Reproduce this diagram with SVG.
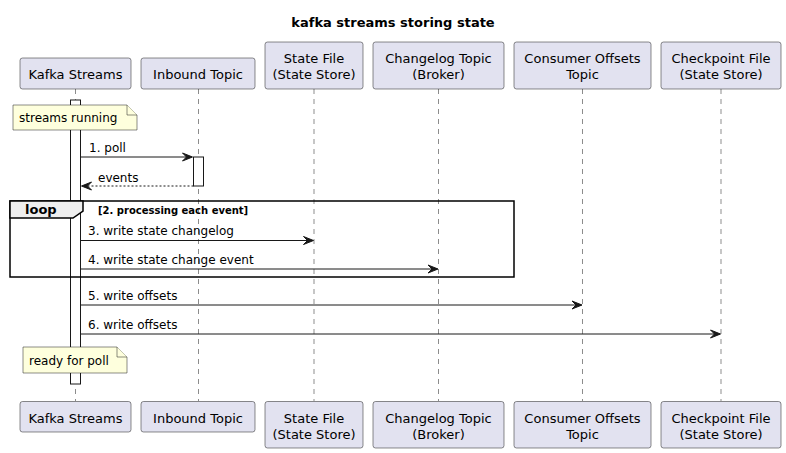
<svg xmlns="http://www.w3.org/2000/svg" width="786" height="453" viewBox="0 0 786 453">
<style>
text{font-family:"DejaVu Sans","Liberation Sans",sans-serif;fill:#000}
.title{font-size:13px;font-weight:bold}
.p{font-size:13px;text-anchor:middle}
.m{font-size:12px}
.n{font-size:12px}
.box{fill:#E2E2F0;stroke:#181818;stroke-width:0.5}
.life{stroke:#181818;stroke-width:0.5;stroke-dasharray:5,5;fill:none}
.act{fill:#FFFFFF;stroke:#181818;stroke-width:1}
.note{fill:#FEFFDD;stroke:#181818;stroke-width:0.5}
.msg{stroke:#181818;stroke-width:1;fill:none}
.ret{stroke:#181818;stroke-width:1;fill:none;stroke-dasharray:2,2}
.head{fill:#181818;stroke:#181818;stroke-width:1}
.frame{fill:none;stroke:#000;stroke-width:1.5}
.tab{fill:#EEEEEE;stroke:#000;stroke-width:1.5}
.lb{font-size:13px;font-weight:bold}
.cond{font-size:10px;font-weight:bold}
</style>
<text class="title" x="393" y="27" text-anchor="middle">kafka streams storing state</text>

<g id="lifelines">
<line class="life" x1="75.5" y1="89" x2="75.5" y2="401"/>
<line class="life" x1="198.5" y1="89" x2="198.5" y2="401"/>
<line class="life" x1="314" y1="89" x2="314" y2="401"/>
<line class="life" x1="438.5" y1="89" x2="438.5" y2="401"/>
<line class="life" x1="582.5" y1="89" x2="582.5" y2="401"/>
<line class="life" x1="721" y1="89" x2="721" y2="401"/>
</g>

<g id="kafka-streams">
<rect class="box" x="20" y="58" width="111" height="31" rx="2.5"/>
<text class="p" x="75.5" y="79">Kafka Streams</text>
<rect class="box" x="20" y="401.5" width="111" height="30.5" rx="2.5"/>
<text class="p" x="75.5" y="422.5">Kafka Streams</text>
<rect class="act" x="70.5" y="100" width="10" height="284"/>
</g>

<g id="inbound-topic">
<rect class="box" x="141" y="58" width="114" height="31" rx="2.5"/>
<text class="p" x="198" y="79">Inbound Topic</text>
<rect class="box" x="141" y="401.5" width="114" height="30.5" rx="2.5"/>
<text class="p" x="198" y="422.5">Inbound Topic</text>
<rect class="act" x="193.5" y="157" width="10" height="29"/>
</g>

<g id="state-file">
<rect class="box" x="265" y="42" width="98" height="47" rx="2.5"/>
<text class="p" x="314" y="63">State File</text>
<text class="p" x="314" y="79">(State Store)</text>
<rect class="box" x="265" y="401.5" width="98" height="46.5" rx="2.5"/>
<text class="p" x="314" y="422.5">State File</text>
<text class="p" x="314" y="438.5">(State Store)</text>
</g>

<g id="changelog-topic">
<rect class="box" x="373" y="42" width="131" height="47" rx="2.5"/>
<text class="p" x="438.5" y="63">Changelog Topic</text>
<text class="p" x="438.5" y="79">(Broker)</text>
<rect class="box" x="373" y="401.5" width="131" height="46.5" rx="2.5"/>
<text class="p" x="438.5" y="422.5">Changelog Topic</text>
<text class="p" x="438.5" y="438.5">(Broker)</text>
</g>

<g id="consumer-offsets">
<rect class="box" x="514" y="42" width="137" height="47" rx="2.5"/>
<text class="p" x="582.5" y="63">Consumer Offsets</text>
<text class="p" x="582.5" y="79">Topic</text>
<rect class="box" x="514" y="401.5" width="137" height="46.5" rx="2.5"/>
<text class="p" x="582.5" y="422.5">Consumer Offsets</text>
<text class="p" x="582.5" y="438.5">Topic</text>
</g>

<g id="checkpoint-file">
<rect class="box" x="661" y="42" width="120" height="47" rx="2.5"/>
<text class="p" x="721" y="63">Checkpoint File</text>
<text class="p" x="721" y="79">(State Store)</text>
<rect class="box" x="661" y="401.5" width="120" height="46.5" rx="2.5"/>
<text class="p" x="721" y="422.5">Checkpoint File</text>
<text class="p" x="721" y="438.5">(State Store)</text>
</g>

<g id="note-streams-running">
<path class="note" d="M13,105 L127,105 L137,115 L137,130 L13,130 Z"/>
<path class="note" d="M127,105 L127,115 L137,115"/>
<text class="n" x="19" y="122">streams running</text>
</g>

<g id="loop-frame">
<rect class="frame" x="10" y="201" width="504" height="76"/>
<path class="tab" d="M10,201 L83,201 L83,211 L73,218 L10,218 Z"/>
<text class="lb" x="25" y="214">loop</text>
<text class="cond" x="98" y="214">[2. processing each event]</text>
</g>

<g id="note-ready">
<path class="note" d="M23,347 L117,347 L127,357 L127,373 L23,373 Z"/>
<path class="note" d="M117,347 L117,357 L127,357"/>
<text class="n" x="29" y="365">ready for poll</text>
</g>

<g id="connectors">
<line class="msg" x1="80.5" y1="157" x2="191.5" y2="157"/>
<polygon class="head" points="192.5,157 182.5,153 186.5,157 182.5,161"/>
<text class="m" x="89" y="152">1. poll</text>

<line class="ret" x1="193.5" y1="186" x2="82.5" y2="186"/>
<polygon class="head" points="81.5,186 91.5,182 87.5,186 91.5,190"/>
<text class="m" x="98" y="181.5">events</text>

<line class="msg" x1="80.5" y1="240.5" x2="312.5" y2="240.5"/>
<polygon class="head" points="313.5,240.5 303.5,236.5 307.5,240.5 303.5,244.5"/>
<text class="m" x="88" y="235">3. write state changelog</text>

<line class="msg" x1="80.5" y1="269" x2="437" y2="269"/>
<polygon class="head" points="438,269 428,265 432,269 428,273"/>
<text class="m" x="88" y="264">4. write state change event</text>

<line class="msg" x1="80.5" y1="305" x2="581" y2="305"/>
<polygon class="head" points="582,305 572,301 576,305 572,309"/>
<text class="m" x="88" y="300">5. write offsets</text>

<line class="msg" x1="80.5" y1="334" x2="719.5" y2="334"/>
<polygon class="head" points="720.5,334 710.5,330 714.5,334 710.5,338"/>
<text class="m" x="88" y="329">6. write offsets</text>
</g>
</svg>
